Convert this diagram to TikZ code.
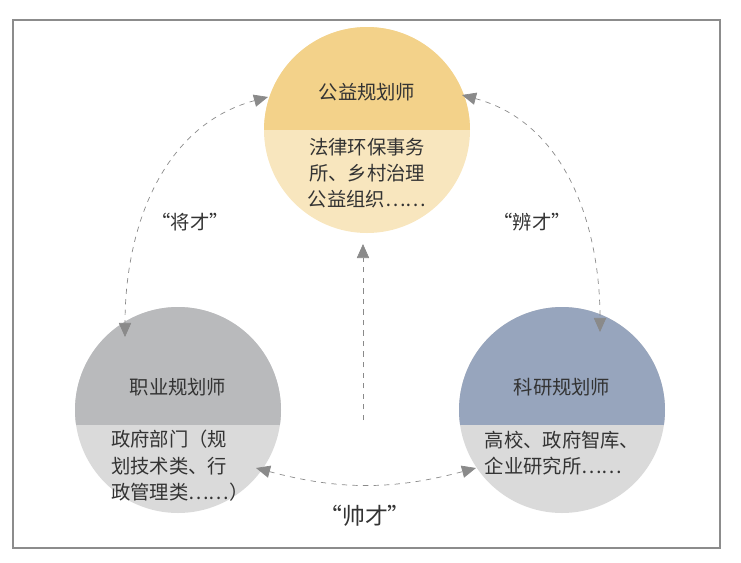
\documentclass[tikz,border=0pt]{standalone}
\usepackage{fontspec}
\newfontfamily\cjk{Noto Sans CJK SC}
\usetikzlibrary{arrows.meta, positioning}
\definecolor{frame}{HTML}{8C8C8C}
\definecolor{goldtop}{HTML}{F3D28A}
\definecolor{goldlow}{HTML}{F8E6BE}
\definecolor{greytop}{HTML}{B9BABC}
\definecolor{bluetop}{HTML}{97A5BD}
\definecolor{lowgrey}{HTML}{DADADA}
\definecolor{txt}{HTML}{333333}
\definecolor{dash}{HTML}{8A8A8A}
\tikzset{
    title/.style={font=\cjk\fontsize{11}{13}\selectfont, text=txt},
    body/.style={font=\cjk\fontsize{11}{15}\selectfont, text=txt, align=left},
    tag/.style={font=\cjk\fontsize{11}{13}\selectfont, text=txt},
    link/.style={draw=dash, dashed, thin, {Triangle[length=8pt,width=7pt]}-{Triangle[length=8pt,width=7pt]}}
}
\begin{document}
\begin{tikzpicture}[x=0.02cm, y=-0.02cm]
\useasboundingbox (0,0) rectangle (741,562);
\draw[frame, line width=1.2pt] (13,20) rectangle (720,548);

% top circle
\begin{scope}
\clip (367,130) circle (103);
\fill[goldlow] (260,24) rectangle (474,236);
\fill[goldtop] (260,24) rectangle (474,130);
\end{scope}
% left circle
\begin{scope}
\clip (178,410) circle (103);
\fill[lowgrey] (71,304) rectangle (285,516);
\fill[greytop] (71,304) rectangle (285,425);
\end{scope}
% right circle
\begin{scope}
\clip (562,410) circle (103);
\fill[lowgrey] (455,304) rectangle (669,516);
\fill[bluetop] (455,304) rectangle (669,425);
\end{scope}

\node[title] (gy) at (367,92) {公益规划师};
\node[body, align=center] (gyb) at (367,173) {法律环保事务\\所、乡村治理\\公益组织……};
\node[title] (zy) at (178,387) {职业规划师};
\node[body] (zyb) at (180,466) {政府部门（规\\划技术类、行\\政管理类……）};
\node[title] (ky) at (562,387) {科研规划师};
\node[body] (kyb) at (562,453) {高校、政府智库、\\企业研究所……};

% links
\coordinate (gyl) at (268,97);
\coordinate (zyt) at (125,337);
\coordinate (gyr) at (462,95);
\coordinate (kyt) at (600,332);
\coordinate (zyr) at (256,468);
\coordinate (kyl) at (476,468);
\coordinate (mid0) at (363,420);
\coordinate (mid1) at (363,244);

\draw[link] (gyl) to[out=195, in=90] (zyt);
\draw[link] (gyr) to[out=-15, in=90] (kyt);
\draw[link] (zyr) to[out=-15, in=195] (kyl);
\draw[link, {}-{Triangle[length=8pt,width=7pt]}] (mid0) -- (mid1);

\node[tag] (jc) at (190,222) {“将才”};
\node[tag] (bc) at (532,222) {“辨才”};
\node[tag, font=\cjk\fontsize{13}{15}\selectfont] (sc) at (365,516) {“帅才”};
\end{tikzpicture}
\end{document}
